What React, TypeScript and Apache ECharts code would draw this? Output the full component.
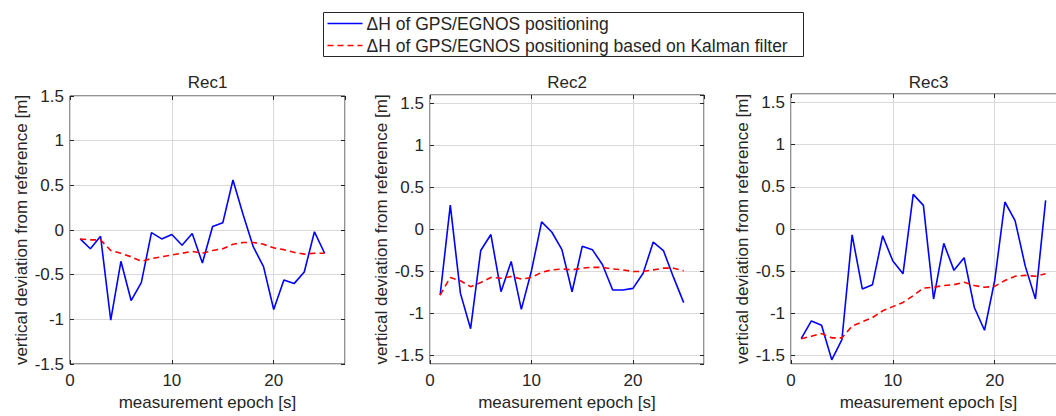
import React, { useEffect, useRef } from "react";
import * as echarts from "echarts";

const epochs = [1, 2, 3, 4, 5, 6, 7, 8, 9, 10, 11, 12, 13, 14, 15, 16, 17, 18, 19, 20, 21, 22, 23, 24, 25];

const rec1Raw = [-0.10, -0.21, -0.07, -1.01, -0.35, -0.79, -0.59, -0.03, -0.10, -0.05, -0.17, -0.04, -0.37, 0.04, 0.08, 0.56, 0.17, -0.19, -0.41, -0.89, -0.56, -0.60, -0.47, -0.02, -0.26];
const rec1Kalman = [-0.10, -0.11, -0.11, -0.23, -0.26, -0.30, -0.35, -0.32, -0.30, -0.28, -0.26, -0.24, -0.26, -0.23, -0.21, -0.16, -0.14, -0.14, -0.16, -0.20, -0.22, -0.25, -0.27, -0.26, -0.26];

const rec2Raw = [-0.78, 0.29, -0.76, -1.18, -0.25, -0.06, -0.74, -0.38, -0.95, -0.49, 0.09, -0.03, -0.24, -0.74, -0.20, -0.24, -0.42, -0.72, -0.72, -0.70, -0.52, -0.15, -0.25, -0.57, -0.87];
const rec2Kalman = [-0.78, -0.57, -0.61, -0.68, -0.63, -0.57, -0.58, -0.56, -0.59, -0.57, -0.51, -0.48, -0.47, -0.48, -0.46, -0.45, -0.45, -0.47, -0.48, -0.50, -0.50, -0.48, -0.46, -0.46, -0.49];

const rec3Raw = [-1.30, -1.09, -1.14, -1.55, -1.31, -0.07, -0.71, -0.66, -0.08, -0.38, -0.53, 0.41, 0.28, -0.83, -0.17, -0.49, -0.34, -0.93, -1.20, -0.61, 0.32, 0.10, -0.44, -0.83, 0.34];
const rec3Kalman = [-1.30, -1.27, -1.24, -1.29, -1.29, -1.15, -1.10, -1.05, -0.97, -0.92, -0.87, -0.79, -0.70, -0.69, -0.67, -0.66, -0.63, -0.67, -0.69, -0.68, -0.61, -0.56, -0.55, -0.56, -0.53];

const panelTitles = ["Rec1", "Rec2", "Rec3"];
const legendLabels = ["\u0394H of GPS/EGNOS positioning", "\u0394H of GPS/EGNOS positioning based on Kalman filter"];
const xAxisName = "measurement epoch [s]";
const yAxisName = "vertical deviation from reference [m]";
const yLimits = [
  [-1.5, 1.5],
  [-1.6, 1.6],
  [-1.6, 1.6],
];
const xLimits = [0, 27];

const FONT = "'Liberation Sans', Arial, Helvetica, sans-serif";
const TXT = "#262626";
const GRIDC = "#d9d9d9";

export default function App() {
  const ref = useRef<HTMLDivElement>(null);
  useEffect(() => {
    if (!ref.current) return;
    const chart = echarts.init(ref.current, undefined, { renderer: "svg" });
    const grids = [
      { left: 70, top: 96, width: 275, height: 272 },
      { left: 430, top: 95, width: 274, height: 274 },
      { left: 791, top: 94, width: 275, height: 274 },
    ];
    const raws = [rec1Raw, rec2Raw, rec3Raw];
    const kals = [rec1Kalman, rec2Kalman, rec3Kalman];

    const xAxis: any[] = [];
    const yAxis: any[] = [];
    const series: any[] = [];
    const titles: any[] = [];
    const tick = { show: true, inside: true, length: 4, lineStyle: { color: TXT } };
    const noLine = { show: false, onZero: false };

    grids.forEach((g, i) => {
      const [ymin, ymax] = yLimits[i];
      const yInterval = i === 0 ? { interval: 0.5 } : { splitNumber: 6 };
      xAxis.push({
        type: "value",
        gridIndex: i,
        position: "bottom",
        min: xLimits[0],
        max: xLimits[1],
        interval: 10,
        name: xAxisName,
        nameLocation: "middle",
        nameGap: 30,
        nameTextStyle: { fontFamily: FONT, fontSize: 17, color: TXT },
        axisLine: noLine,
        axisTick: tick,
        axisLabel: { showMaxLabel: false, fontFamily: FONT, fontSize: 17, color: TXT, margin: 8 },
        splitLine: { show: true, lineStyle: { color: GRIDC, width: 1 } },
      });
      xAxis.push({
        type: "value",
        gridIndex: i,
        position: "top",
        min: xLimits[0],
        max: xLimits[1],
        interval: 10,
        axisLine: noLine,
        axisTick: tick,
        axisLabel: { show: false },
        splitLine: { show: false },
      });
      yAxis.push({
        type: "value",
        gridIndex: i,
        position: "left",
        min: ymin,
        max: ymax,
        ...yInterval,
        name: yAxisName,
        nameLocation: "middle",
        nameGap: 40,
        nameTextStyle: { fontFamily: FONT, fontSize: 17, color: TXT },
        axisLine: noLine,
        axisTick: tick,
        axisLabel: {
          showMinLabel: i === 0,
          showMaxLabel: i === 0,
          fontFamily: FONT,
          fontSize: 17,
          color: TXT,
          margin: 6,
        },
        splitLine: { show: true, lineStyle: { color: GRIDC, width: 1 } },
      });
      yAxis.push({
        type: "value",
        gridIndex: i,
        position: "right",
        min: ymin,
        max: ymax,
        ...yInterval,
        axisLine: noLine,
        axisTick: tick,
        axisLabel: { show: false },
        splitLine: { show: false },
      });
      series.push({
        type: "line",
        name: legendLabels[0],
        xAxisIndex: 2 * i,
        yAxisIndex: 2 * i,
        data: epochs.map((e, k) => [e, raws[i][k]]),
        showSymbol: false,
        symbol: "none",
        lineStyle: { color: "#0000ff", width: 1.6 },
        z: 3,
      });
      series.push({
        type: "line",
        name: legendLabels[1],
        xAxisIndex: 2 * i,
        yAxisIndex: 2 * i,
        data: epochs.map((e, k) => [e, kals[i][k]]),
        showSymbol: false,
        symbol: "none",
        lineStyle: { color: "#ff0000", width: 1.6, type: [6, 4] },
        z: 4,
      });
      titles.push({
        text: panelTitles[i],
        left: g.left + g.width / 2,
        top: 74,
        textAlign: "center",
        padding: 0,
        textStyle: { fontFamily: FONT, fontSize: 17, fontWeight: "normal", color: TXT },
      });
    });

    const legendGraphic = {
      type: "group",
      left: 323,
      top: 12,
      children: [
        { type: "rect", shape: { x: 0, y: 0, width: 480, height: 44 }, style: { fill: "#ffffff", stroke: "#262626", lineWidth: 1 } },
        { type: "line", shape: { x1: 4, y1: 11, x2: 39, y2: 11 }, style: { stroke: "#0000ff", lineWidth: 1.6 } },
        { type: "text", x: 43, y: 11, style: { text: legendLabels[0], fontFamily: FONT, fontSize: 17.5, fill: TXT, verticalAlign: "middle", align: "left" } },
        { type: "line", shape: { x1: 4, y1: 33, x2: 39, y2: 33 }, style: { stroke: "#ff0000", lineWidth: 1.6, lineDash: [6, 4] } },
        { type: "text", x: 43, y: 33, style: { text: legendLabels[1], fontFamily: FONT, fontSize: 17.5, fill: TXT, verticalAlign: "middle", align: "left" } },
      ],
    };

    chart.setOption({
      animation: false,
      backgroundColor: "#ffffff",
      title: titles,
      grid: grids.map((g) => ({ ...g, show: true, borderColor: "#262626", borderWidth: 1, backgroundColor: "#ffffff" })),
      xAxis,
      yAxis,
      series,
      graphic: [legendGraphic],
    });
    return () => chart.dispose();
  }, []);
  return (
    <div style={{ position: "fixed", left: 0, top: 0, width: 1056, height: 416, overflow: "hidden", background: "#fff" }}>
      <div ref={ref} style={{ width: 1072, height: 416 }} />
    </div>
  );
}
